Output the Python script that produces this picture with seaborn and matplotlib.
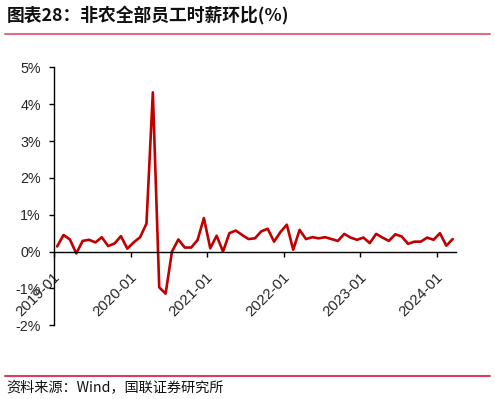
import numpy as np
import pandas as pd
import matplotlib
matplotlib.use("Agg")
import matplotlib.pyplot as plt
import matplotlib.transforms as mtransforms
from matplotlib.lines import Line2D
import seaborn as sns

# ---- data (monthly, 2019-01 .. 2024-03), % m/m ----
months = pd.date_range("2019-01-01", "2024-03-01", freq="MS").strftime("%Y-%m").tolist()
values = [
    0.14, 0.45, 0.33, -0.05, 0.29, 0.32, 0.25, 0.39, 0.15, 0.22, 0.42, 0.08,   # 2019
    0.25, 0.39, 0.76, 4.32, -0.97, -1.14, 0.00, 0.33, 0.11, 0.11, 0.31, 0.91,  # 2020
    0.09, 0.43, 0.00, 0.50, 0.57, 0.45, 0.34, 0.36, 0.55, 0.62, 0.27, 0.53,    # 2021
    0.73, 0.05, 0.59, 0.34, 0.39, 0.36, 0.39, 0.34, 0.29, 0.48, 0.38, 0.32,    # 2022
    0.38, 0.23, 0.48, 0.38, 0.29, 0.47, 0.41, 0.21, 0.27, 0.27, 0.38, 0.32,    # 2023
    0.50, 0.16, 0.34,                                                          # 2024
]
tick_labels = ["2019-01", "2020-01", "2021-01", "2022-01", "2023-01", "2024-01"]
y_ticks = [-2, -1, 0, 1, 2, 3, 4, 5]

title = "图表28：非农全部员工时薪环比(%)"
source = "资料来源：Wind，国联证券研究所"

df = pd.DataFrame({"month": months, "value": values})
df["idx"] = np.arange(len(df))

sns.set_theme(style="white")
plt.rcParams["font.family"] = ["Liberation Sans", "Noto Sans CJK SC", "DejaVu Sans"]

fig = plt.figure(figsize=(4.95, 3.99), dpi=100)
ax = fig.add_axes([0.109, 0.1847, 0.812, 0.6466])

sns.lineplot(data=df, x="idx", y="value", ax=ax, color="#c00000", linewidth=1.9)

ax.set_xlim(-0.5, len(df) - 0.5)
ax.set_ylim(-2, 5)
ax.set_xlabel("")
ax.set_ylabel("")

# spines
for s in ["top", "right"]:
    ax.spines[s].set_visible(False)
ax.spines["bottom"].set_position(("data", 0))
ax.spines["left"].set_color("black")
ax.spines["bottom"].set_color("black")
ax.spines["left"].set_linewidth(1.0)
ax.spines["bottom"].set_linewidth(1.0)

# y ticks
ax.set_yticks(y_ticks)
ax.set_yticklabels([f"{v}%" for v in y_ticks], fontsize=10.3,
                   family=["Liberation Sans", "DejaVu Sans"])
ax.tick_params(axis="y", direction="out", length=3.5, width=1.0, color="black",
               pad=6, left=True)

# x ticks
xt = [months.index(l) - 0.5 for l in tick_labels]
ax.set_xticks(xt)
ax.set_xticklabels(tick_labels, rotation=45, ha="right", va="center",
                   rotation_mode="anchor", fontsize=10.8,
                   family=["Liberation Sans", "DejaVu Sans"])
ax.tick_params(axis="x", direction="out", length=3.6, width=1.0, color="black",
               pad=13.5, bottom=True)
offset = mtransforms.ScaledTranslation(4.0 / 100, 0, fig.dpi_scale_trans)
for lab in ax.get_xticklabels():
    lab.set_transform(lab.get_transform() + offset)

ax.grid(False)

# title and decorations
fig.text(7 / 495, 1 - 16 / 399, title, fontsize=12.8, fontweight="bold",
         family=["Noto Sans CJK SC", "DejaVu Sans"], ha="left", va="center",
         color="#111111")
fig.add_artist(Line2D([5 / 495, 490 / 495], [1 - 34.3 / 399] * 2,
                      transform=fig.transFigure, color="#e06c84", linewidth=1.5))
fig.add_artist(Line2D([5 / 495, 490 / 495], [1 - 375.7 / 399] * 2,
                      transform=fig.transFigure, color="#e03a60", linewidth=1.5))
fig.text(6 / 495, 1 - 387 / 399, source, fontsize=10.2,
         family=["Noto Sans CJK SC", "DejaVu Sans"], ha="left", va="center",
         color="#111111")

fig.savefig("out.png", dpi=100)
